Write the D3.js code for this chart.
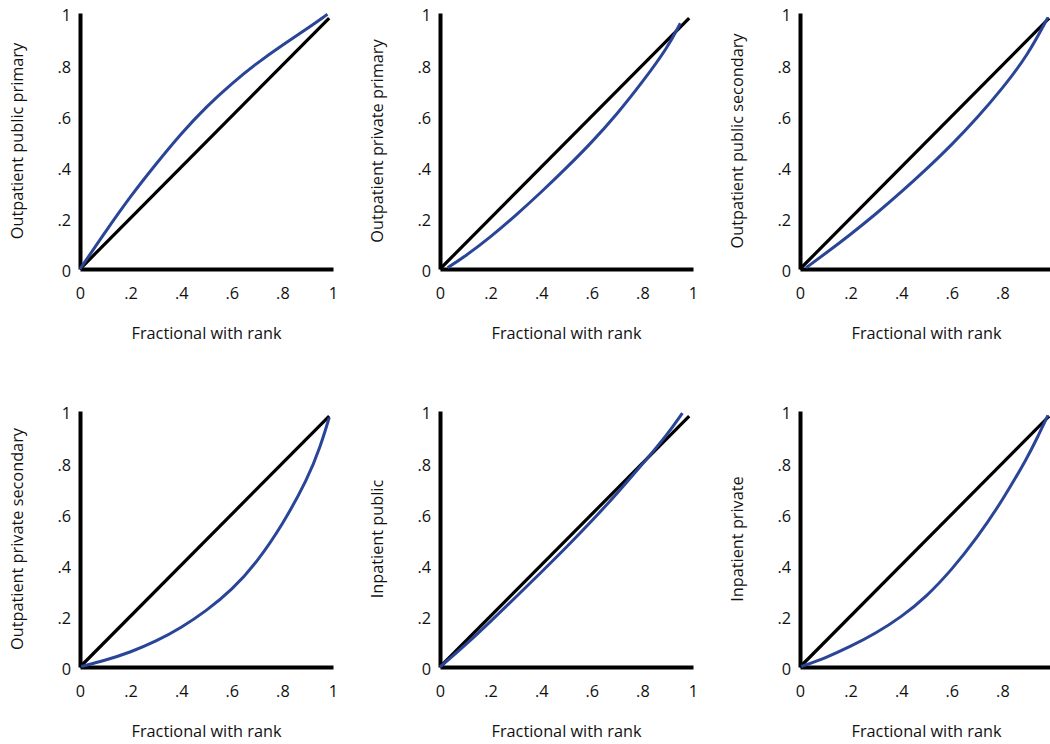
<!DOCTYPE html>
<html>
<head>
<meta charset="utf-8">
<script src="https://cdn.jsdelivr.net/npm/d3@7"></script>
<style>
  body { margin: 0; background: #fff; }
  text { font-family: "Open Sans", "Noto Sans", sans-serif; fill: #111; }
</style>
</head>
<body>
<div id="chart"></div>
<script>
// panel titles, left to right, top to bottom
const panelTitles = [
    "Outpatient public primary",
    "Outpatient private primary",
    "Outpatient public secondary",
    "Outpatient private secondary",
    "Inpatient public",
    "Inpatient private"
];

const tickValues = [0, 0.2, 0.4, 0.6, 0.8, 1];
const tickLabels = ["0", ".2", ".4", ".6", ".8", "1"];
const xTitle = "Fractional with rank";

// line of equality
const equalityX = [0, 0.985];
const equalityY = [0, 0.98];

// concentration curves
const pubPrimX = [0, 0.1, 0.2, 0.3, 0.4, 0.5, 0.6, 0.7, 0.8, 0.9, 0.978];
const pubPrimY = [0, 0.145, 0.285, 0.41, 0.53, 0.635, 0.725, 0.805, 0.875, 0.94, 0.995];

const privPrimX = [0.03, 0.1, 0.2, 0.3, 0.4, 0.5, 0.6, 0.7, 0.8, 0.9, 0.95];
const privPrimY = [0.005, 0.05, 0.125, 0.21, 0.3, 0.395, 0.495, 0.605, 0.73, 0.865, 0.96];

const pubSecX = [0.024, 0.1, 0.2, 0.3, 0.4, 0.5, 0.6, 0.7, 0.8, 0.9, 0.98];
const pubSecY = [0.005, 0.06, 0.135, 0.215, 0.3, 0.39, 0.485, 0.59, 0.705, 0.835, 0.983];

const privSecX = [0.005, 0.1, 0.2, 0.3, 0.4, 0.5, 0.6, 0.7, 0.8, 0.9, 0.95, 0.985];
const privSecY = [0.002, 0.026, 0.058, 0.1, 0.153, 0.22, 0.3, 0.41, 0.555, 0.735, 0.86, 0.974];

const inPubX = [0, 0.1, 0.2, 0.3, 0.4, 0.5, 0.6, 0.7, 0.8, 0.9, 0.958];
const inPubY = [0, 0.085, 0.178, 0.273, 0.37, 0.468, 0.57, 0.678, 0.792, 0.91, 0.992];

const inPrivX = [0.005, 0.1, 0.2, 0.3, 0.4, 0.5, 0.6, 0.7, 0.8, 0.9, 0.94, 0.98];
const inPrivY = [0.002, 0.035, 0.08, 0.132, 0.195, 0.275, 0.38, 0.505, 0.65, 0.82, 0.9, 0.983];

const curvesX = [pubPrimX, privPrimX, pubSecX, privSecX, inPubX, inPrivX];
const curvesY = [pubPrimY, privPrimY, pubSecY, privSecY, inPubY, inPrivY];

function drawPanels() {
    const width = 1050;
    const height = 744;
    const fontSize = "16.3px";

    const svg = d3.select("#chart").append("svg")
        .attr("width", width)
        .attr("height", height);

    const colLeft = [80, 440, 800];   // y axis position per column
    const rowBase = [269, 667];       // x axis position per row
    const plotW = 253;
    const plotH = 256;

    panelTitles.forEach((title, i) => {
        const col = i % 3;
        const ox = colLeft[col];
        const oy = rowBase[Math.floor(i / 3)];

        const x = d3.scaleLinear().domain([0, 1]).range([ox, ox + plotW]);
        const y = d3.scaleLinear().domain([0, 1]).range([oy, oy - plotH]);

        const g = svg.append("g");

        // the right column runs off the page, its "1" is not shown
        const xTicks = col === 2 ? tickValues.slice(0, 5) : tickValues;

        const xAxis = d3.axisBottom(x)
            .tickValues(xTicks)
            .tickFormat(d => tickLabels[tickValues.indexOf(d)])
            .tickSize(0)
            .tickPadding(18);

        const yAxis = d3.axisLeft(y)
            .tickValues(tickValues)
            .tickFormat(d => tickLabels[tickValues.indexOf(d)])
            .tickSize(0)
            .tickPadding(9);

        const gx = g.append("g")
            .attr("transform", `translate(0,${oy})`)
            .call(xAxis);

        const gy = g.append("g")
            .attr("transform", `translate(${ox},0)`)
            .call(yAxis);

        [gx, gy].forEach(a => {
            a.select(".domain")
                .attr("stroke", "#000")
                .attr("stroke-width", 4);
            a.selectAll("text")
                .style("font-size", fontSize)
                .style("font-family", "'Open Sans', sans-serif")
                .attr("fill", "#111");
        });
        gy.selectAll("text").attr("dy", "0.48em");

        // line of equality
        const line = d3.line()
            .x(d => x(d[0]))
            .y(d => y(d[1]));

        g.append("path")
            .datum(equalityX.map((v, k) => [v, equalityY[k]]))
            .attr("d", line)
            .attr("fill", "none")
            .attr("stroke", "#000")
            .attr("stroke-width", 3.2);

        // concentration curve
        const curve = d3.line()
            .x(d => x(d[0]))
            .y(d => y(d[1]))
            .curve(d3.curveBasis);

        g.append("path")
            .datum(curvesX[i].map((v, k) => [v, curvesY[i][k]]))
            .attr("d", curve)
            .attr("fill", "none")
            .attr("stroke", "#2a4597")
            .attr("stroke-width", 3);

        // axis titles
        g.append("text")
            .attr("x", ox + plotW / 2)
            .attr("y", oy + 70)
            .style("font-size", fontSize)
            .style("text-anchor", "middle")
            .text(xTitle);

        g.append("text")
            .attr("transform", `translate(${ox - 57},${oy - plotH / 2}) rotate(-90)`)
            .style("font-size", fontSize)
            .style("text-anchor", "middle")
            .text(title);
    });
}

drawPanels();
</script>
</body>
</html>
